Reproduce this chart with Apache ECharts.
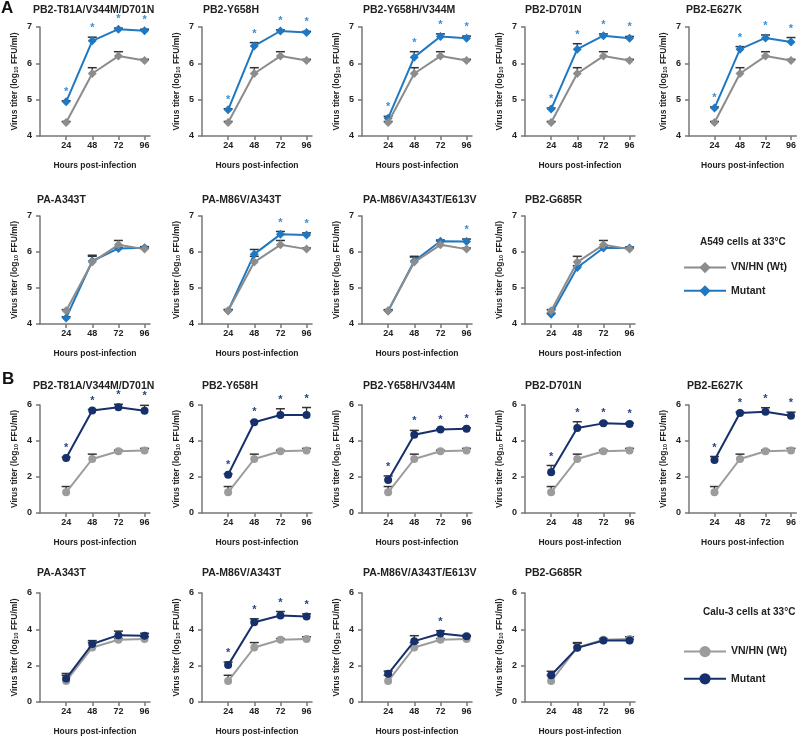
<!DOCTYPE html>
<html><head><meta charset="utf-8">
<script src="https://cdn.jsdelivr.net/npm/echarts@6/dist/echarts.min.js"></script>
<style>html,body{margin:0;padding:0;background:#fff}#c{width:799px;height:737px}</style>
</head><body><div id="c"></div>
<script>
// ---------- data ----------
const hours = [24, 48, 72, 96];
const yTicksA = [4, 5, 6, 7];
const yTicksB = [0, 2, 4, 6];
const titlesA = ['PB2-T81A/V344M/D701N', 'PB2-Y658H', 'PB2-Y658H/V344M', 'PB2-D701N', 'PB2-E627K',
                 'PA-A343T', 'PA-M86V/A343T', 'PA-M86V/A343T/E613V', 'PB2-G685R'];
const titlesB = titlesA.slice();
const legendA = ['VN/HN (Wt)', 'Mutant'];
const legendB = ['VN/HN (Wt) ', 'Mutant '];
const headingA = 'A549 cells at 33°C';
const headingB = 'Calu-3 cells at 33°C';

const wtA = [4.37, 5.72, 6.20, 6.08];
const wtAErr = [0.03, 0.16, 0.12, 0.03];
const mutA = [
  [4.94, 6.62, 6.94, 6.90],
  [4.72, 6.48, 6.89, 6.85],
  [4.49, 6.17, 6.74, 6.69],
  [4.74, 6.39, 6.76, 6.69],
  [4.77, 6.39, 6.70, 6.59],
  [4.17, 5.75, 6.10, 6.12],
  [4.37, 5.94, 6.49, 6.47],
  [4.36, 5.75, 6.30, 6.29],
  [4.27, 5.57, 6.11, 6.11]
];
const mutAErr = [
  [0.03, 0.10, 0.03, 0.04],
  [0.03, 0.09, 0.03, 0.03],
  [0.05, 0.15, 0.07, 0.06],
  [0.03, 0.15, 0.05, 0.05],
  [0.03, 0.07, 0.08, 0.12],
  [0.03, 0.16, 0.03, 0.03],
  [0.03, 0.13, 0.08, 0.06],
  [0.02, 0.11, 0.03, 0.07],
  [0.03, 0.05, 0.03, 0.03]
];
const sigA = [
  [1, 1, 1, 1], [1, 1, 1, 1], [1, 1, 1, 1], [1, 1, 1, 1], [1, 1, 1, 1],
  [0, 0, 0, 0], [0, 0, 1, 1], [0, 0, 0, 1], [0, 0, 0, 0]
];

const wtB = [1.15, 3.00, 3.43, 3.47];
const wtBErr = [0.32, 0.27, 0.06, 0.12];
const mutB = [
  [3.05, 5.69, 5.88, 5.68],
  [2.13, 5.04, 5.44, 5.44],
  [1.84, 4.35, 4.64, 4.68],
  [2.27, 4.72, 4.98, 4.94],
  [2.95, 5.55, 5.63, 5.40],
  [1.29, 3.19, 3.68, 3.64],
  [2.03, 4.39, 4.76, 4.70],
  [1.55, 3.35, 3.77, 3.62],
  [1.47, 2.98, 3.38, 3.38]
];
const mutBErr = [
  [0.05, 0.06, 0.16, 0.30],
  [0.04, 0.05, 0.35, 0.42],
  [0.22, 0.24, 0.04, 0.05],
  [0.37, 0.35, 0.05, 0.06],
  [0.19, 0.05, 0.22, 0.20],
  [0.28, 0.19, 0.22, 0.14],
  [0.17, 0.19, 0.22, 0.15],
  [0.15, 0.30, 0.15, 0.05],
  [0.22, 0.25, 0.10, 0.08]
];
const sigB = [
  [1, 1, 1, 1], [1, 1, 1, 1], [1, 1, 1, 1], [1, 1, 1, 1], [1, 1, 1, 1],
  [0, 0, 0, 0], [1, 1, 1, 1], [0, 0, 1, 0], [0, 0, 0, 0]
];

// ---------- layout / style ----------
const FONT = '"Liberation Sans", Arial, sans-serif';
const colLeft = [40, 202, 362, 525, 689];
const rowTop = [27, 216, 405, 593];
const rowH = [109, 108, 108, 109];
const GW = 110;
const titleLeft = [[33, 203, 363, 525, 686], [37, 202, 363, 525], [33, 202, 363, 525, 687], [37, 202, 363, 525]];
const titleMid = [10, 200, 386, 573];
const AX = '#777';
const TXT = '#222';

const styleA = { wt: '#8c8c8c', mut: '#1f78c1', star: '#3b8fd4', symbol: 'diamond', size: 9,
  yMin: 4, yMax: 7, yInt: 1, yTicks: yTicksA, names: legendA, wtZ: 4, mutZ: 3 };
const styleB = { wt: '#9c9c9c', mut: '#16306c', star: '#2a4488', symbol: 'circle', size: 8,
  yMin: 0, yMax: 6, yInt: 2, yTicks: yTicksB, names: legendB, wtZ: 3, mutZ: 4 };

const grids = [], xAxes = [], yAxes = [], series = [], titles = [];

function errRender(params, api) {
  const x = api.value(0), v = api.value(1), e = api.value(2);
  const p0 = api.coord([x, v]), p1 = api.coord([x, v + e]);
  const hw = 4.5;
  return { type: 'group', children: [
    { type: 'line', shape: { x1: p0[0], y1: p0[1], x2: p1[0], y2: p1[1] }, style: { stroke: '#333', lineWidth: 1.3 } },
    { type: 'line', shape: { x1: p1[0] - hw, y1: p1[1], x2: p1[0] + hw, y2: p1[1] }, style: { stroke: '#333', lineWidth: 1.5 } }
  ] };
}
function starRender(color) {
  return function (params, api) {
    const p = api.coord([api.value(0), api.value(1)]);
    return { type: 'text', x: p[0], y: p[1] - 9,
      style: { text: '*', fill: color, font: 'bold 11px ' + FONT, align: 'center', verticalAlign: 'middle' } };
  };
}

function panel(idx, row, col, title, wt, wtErr, mut, mutErr, sig, st) {
  grids.push({ left: colLeft[col], top: rowTop[row], width: GW, height: rowH[row], containLabel: false });
  titles.push({ text: title, left: titleLeft[row][col], top: titleMid[row] - 5, padding: 0,
    textStyle: { fontSize: 10.5, fontWeight: 'bold', color: TXT, fontFamily: FONT } });
  xAxes.push({ gridIndex: idx, type: 'value', min: 0, max: 101,
    name: 'Hours post-infection', nameLocation: 'middle', nameGap: 25,
    nameTextStyle: { fontSize: 8.5, fontWeight: 'bold', color: TXT, fontFamily: FONT },
    axisLine: { show: true, onZero: false, lineStyle: { color: AX, width: 1.5 } },
    axisTick: { show: true, length: 4, customValues: hours, lineStyle: { color: AX, width: 1.5 } },
    axisLabel: { customValues: hours, margin: 5, color: TXT, fontSize: 9, fontWeight: 'bold', fontFamily: FONT },
    splitLine: { show: false } });
  yAxes.push({ gridIndex: idx, type: 'value', min: st.yMin, max: st.yMax, interval: st.yInt,
    name: 'Virus titer (log{s|10} FFU/ml)', nameLocation: 'middle', nameGap: 21, nameRotate: 90,
    nameTextStyle: { fontSize: 8.5, fontWeight: 'bold', color: TXT, fontFamily: FONT,
      rich: { s: { fontSize: 6, fontWeight: 'bold', color: TXT, fontFamily: FONT, verticalAlign: 'bottom' } } },
    axisLine: { show: true, lineStyle: { color: AX, width: 1.5 } },
    axisTick: { show: true, length: 4, lineStyle: { color: AX, width: 1.5 } },
    axisLabel: { margin: 8, color: TXT, fontSize: 9, fontWeight: 'bold', fontFamily: FONT },
    splitLine: { show: false } });
  const mk = (vals) => hours.map((h, i) => [h, vals[i]]);
  const mkE = (vals, errs) => hours.map((h, i) => [h, vals[i], errs[i]]);
  series.push({ type: 'custom', xAxisIndex: idx, yAxisIndex: idx, z: 1, renderItem: errRender, data: mkE(wt, wtErr), silent: true });
  series.push({ type: 'custom', xAxisIndex: idx, yAxisIndex: idx, z: 1, renderItem: errRender, data: mkE(mut, mutErr), silent: true });
  series.push({ type: 'line', name: st.names[0], xAxisIndex: idx, yAxisIndex: idx, z: st.wtZ, data: mk(wt),
    symbol: st.symbol, symbolSize: st.size, showAllSymbol: true,
    lineStyle: { color: st.wt, width: 2 }, itemStyle: { color: st.wt } });
  series.push({ type: 'line', name: st.names[1], xAxisIndex: idx, yAxisIndex: idx, z: st.mutZ, data: mk(mut),
    symbol: st.symbol, symbolSize: st.size, showAllSymbol: true,
    lineStyle: { color: st.mut, width: 2 }, itemStyle: { color: st.mut } });
  const stars = [];
  hours.forEach((h, i) => { if (sig[i]) stars.push([h, mut[i] + mutErr[i]]); });
  series.push({ type: 'custom', xAxisIndex: idx, yAxisIndex: idx, z: 5, renderItem: starRender(st.star), data: stars, silent: true });
}

titlesA.forEach((t, i) => {
  const row = i < 5 ? 0 : 1, col = i < 5 ? i : i - 5;
  panel(i, row, col, t, wtA, wtAErr, mutA[i], mutAErr[i], sigA[i], styleA);
});
titlesB.forEach((t, i) => {
  const row = i < 5 ? 2 : 3, col = i < 5 ? i : i - 5;
  panel(9 + i, row, col, t, wtB, wtBErr, mutB[i], mutBErr[i], sigB[i], styleB);
});

titles.push({ text: 'A', left: 1, top: 0, padding: 0, textStyle: { fontSize: 17, fontWeight: 'bold', color: '#111', fontFamily: FONT } });
titles.push({ text: 'B', left: 2, top: 371, padding: 0, textStyle: { fontSize: 17, fontWeight: 'bold', color: '#111', fontFamily: FONT } });
titles.push({ text: headingA, left: 700, top: 237, padding: 0, textStyle: { fontSize: 10, fontWeight: 'bold', color: TXT, fontFamily: FONT } });
titles.push({ text: headingB, left: 703, top: 607, padding: 0, textStyle: { fontSize: 10, fontWeight: 'bold', color: TXT, fontFamily: FONT } });

const legText = { fontSize: 10.5, fontWeight: 'bold', color: TXT, fontFamily: FONT };
const option = {
  animation: false,
  backgroundColor: '#fff',
  title: titles,
  legend: [
    { left: 683, top: 262, padding: 0, orient: 'vertical', itemWidth: 42, itemHeight: 14, itemGap: 12,
      data: legendA, textStyle: legText, selectedMode: false, formatter: n => n.trim() },
    { left: 683, top: 646, padding: 0, orient: 'vertical', itemWidth: 42, itemHeight: 14, itemGap: 16,
      data: legendB, textStyle: legText, selectedMode: false, formatter: n => n.trim() }
  ],
  grid: grids,
  xAxis: xAxes,
  yAxis: yAxes,
  series: series
};
const chart = echarts.init(document.getElementById('c'), null, { renderer: 'canvas' });
chart.setOption(option);
</script>
</body></html>
